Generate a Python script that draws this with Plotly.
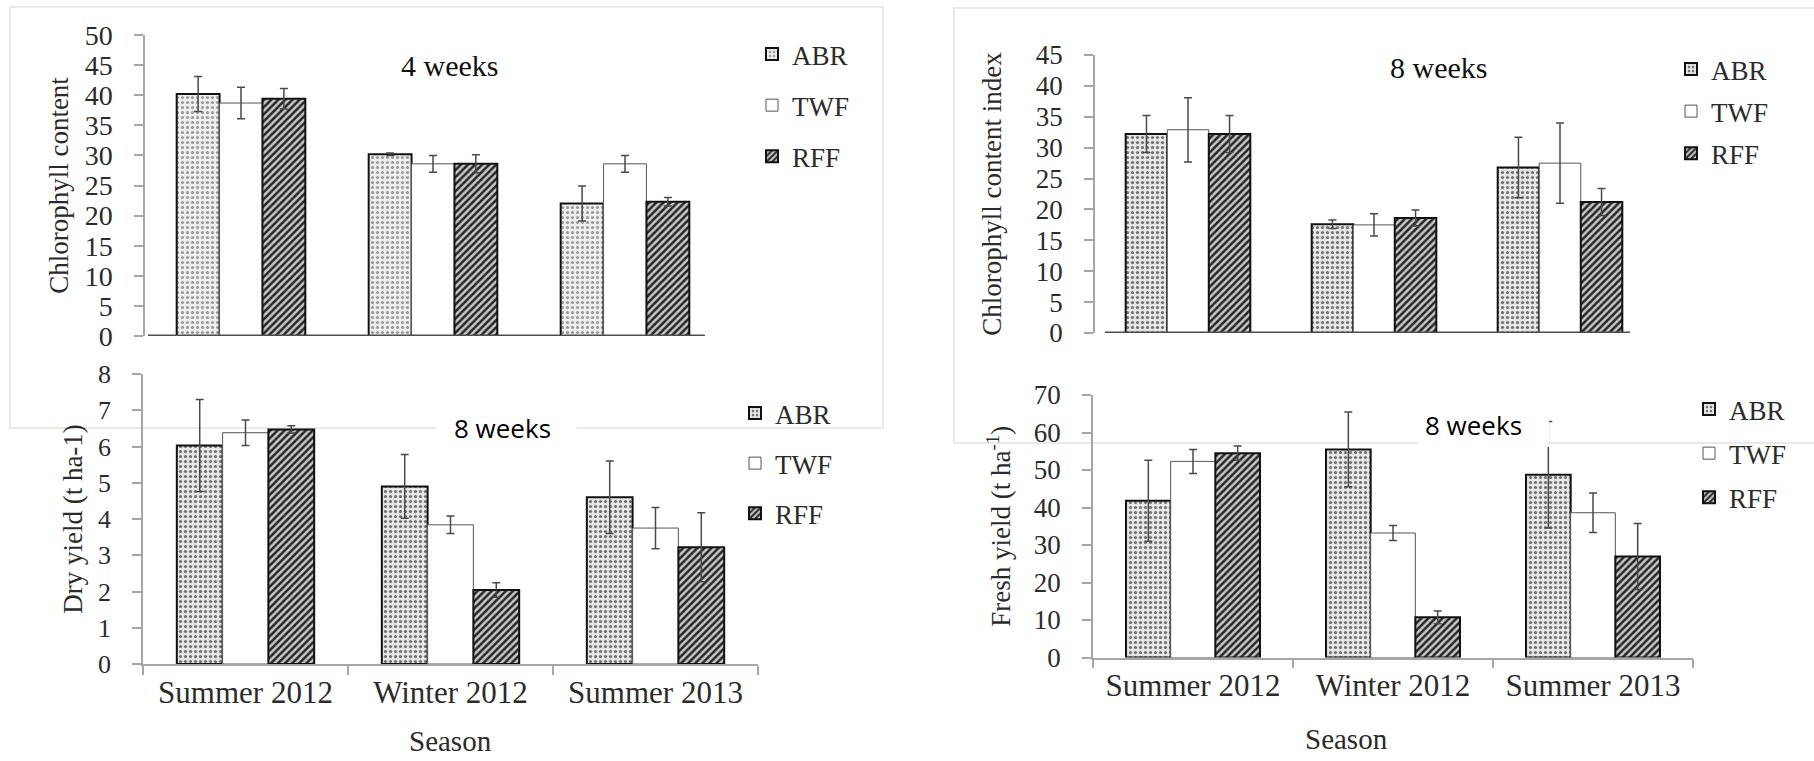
import plotly.graph_objects as go

W, H = 1814, 761

seasons = ["Summer 2012", "Winter 2012", "Summer 2013"]
treatments = ["ABR", "TWF", "RFF"]

# Chlorophyll content, 4 weeks
chl4 = {"ABR": [40.2, 30.2, 22.0], "TWF": [38.7, 28.6, 28.6], "RFF": [39.4, 28.6, 22.3]}
chl4_err = {"ABR": [2.9, 0.2, 2.9], "TWF": [2.6, 1.4, 1.4], "RFF": [1.7, 1.5, 0.7]}

# Chlorophyll content index, 8 weeks
chl8 = {"ABR": [32.2, 17.6, 26.8], "TWF": [32.9, 17.5, 27.5], "RFF": [32.2, 18.6, 21.2]}
chl8_err = {"ABR": [3.0, 0.7, 4.9], "TWF": [5.2, 1.8, 6.5], "RFF": [3.0, 1.3, 2.2]}

# Dry yield (t ha-1), 8 weeks
dry = {"ABR": [6.03, 4.9, 4.6], "TWF": [6.38, 3.84, 3.75], "RFF": [6.47, 2.04, 3.22]}
dry_err = {"ABR": [1.27, 0.88, 1.0], "TWF": [0.35, 0.24, 0.57], "RFF": [0.1, 0.2, 0.95]}

# Fresh yield (t ha-1), 8 weeks
fresh = {"ABR": [41.8, 55.5, 48.7], "TWF": [52.3, 33.2, 38.6], "RFF": [54.5, 10.7, 26.9]}
fresh_err = {"ABR": [10.8, 10.0, 14.2], "TWF": [3.2, 2.0, 5.3], "RFF": [1.9, 1.7, 8.8]}

SERIF = "Liberation Serif, Times New Roman, serif"
SANS = "Open Sans, Noto Sans, sans-serif"
TXT = "#2b2b2b"
AX = "#a6a6a6"


def fx(px):
    return px / W


def fy(py):
    return 1 - py / H


def style(t, light=False):
    if t == "ABR":
        return dict(color="#e9e9e9",
                    pattern=dict(shape=".", fgcolor="#9a9a9a" if light else "#6f6f6f",
                                 bgcolor="#eeeeee" if light else "#e6e6e6",
                                 size=5, solidity=0.3, fillmode="replace"),
                    line=dict(color="#111111", width=2))
    if t == "TWF":
        return dict(color="white", line=dict(color="#555555", width=1))
    return dict(color="#555555",
                pattern=dict(shape="/", fgcolor="#262626", bgcolor="#c8c8c8",
                             size=5, solidity=0.5, fillmode="replace"),
                line=dict(color="#111111", width=2))


fig = go.Figure()

panels = [
    ("x", "y", "legend", chl4, chl4_err, True),
    ("x2", "y2", "legend2", chl8, chl8_err, False),
    ("x3", "y3", "legend3", dry, dry_err, False),
    ("x4", "y4", "legend4", fresh, fresh_err, False),
]
for i, (xa, ya, lg, vals, errs, light) in enumerate(panels):
    for t in treatments:
        fig.add_trace(go.Bar(
            x=seasons, y=vals[t], name=t, xaxis=xa, yaxis=ya,
            legend=lg, legendgroup=f"{lg}_{t}", showlegend=True,
            marker=style(t, light),
            error_y=dict(type="data", array=errs[t], visible=True,
                         color="#4a4a4a", thickness=1.5, width=4),
            hoverinfo="x+y+name",
        ))

ytick_common = dict(showline=True, linecolor=AX, linewidth=1.5, ticks="outside",
                    ticklen=9, tickcolor=AX, tickwidth=1.5, showgrid=False,
                    zeroline=False, ticklabelstandoff=16, automargin=False)
top_x = dict(type="category", showline=False,
             showticklabels=False, ticks="", showgrid=False, zeroline=False,
             automargin=False)
bot_x = dict(type="category", showline=True, linecolor=AX, linewidth=1.5,
             ticks="outside", tickson="boundaries", ticklen=9, tickcolor=AX,
             tickwidth=1.5, showgrid=False, zeroline=False, automargin=False,
             tickfont=dict(family=SERIF, size=31, color=TXT))

fig.update_layout(
    width=W, height=H, autosize=False,
    margin=dict(l=0, r=0, t=0, b=0, pad=0),
    paper_bgcolor="white", plot_bgcolor="rgba(0,0,0,0)",
    barmode="group", bargap=0.33, bargroupgap=0,
    font=dict(family=SERIF, color=TXT),
    xaxis=dict(domain=[fx(145), fx(721)], anchor="y", **top_x),
    yaxis=dict(domain=[fy(336), fy(35)], anchor="x", range=[0, 50], dtick=5,
               tickfont=dict(family=SERIF, size=28, color=TXT),
               title=dict(text="Chlorophyll content", standoff=8,
                          font=dict(family=SERIF, size=27, color=TXT)),
               **ytick_common),
    xaxis2=dict(domain=[fx(1095), fx(1653)], anchor="y2", **top_x),
    yaxis2=dict(domain=[fy(333), fy(55)], anchor="x2", range=[0, 45], dtick=5,
                tickfont=dict(family=SERIF, size=27, color=TXT),
                title=dict(text="Chlorophyll content index", standoff=26,
                           font=dict(family=SERIF, size=27, color=TXT)),
                **ytick_common),
    xaxis3=dict(domain=[fx(143), fx(758)], anchor="y3", **bot_x),
    yaxis3=dict(domain=[fy(664), fy(374)], anchor="x3", range=[0, 8], dtick=1,
                tickfont=dict(family=SERIF, size=26, color=TXT),
                title=dict(text="Dry yield (t ha-1)", standoff=8,
                           font=dict(family=SERIF, size=27, color=TXT)),
                **ytick_common),
    xaxis4=dict(domain=[fx(1093), fx(1693)], anchor="y4", **bot_x),
    yaxis4=dict(domain=[fy(657.5), fy(395)], anchor="x4", range=[0, 70], dtick=10,
                tickfont=dict(family=SERIF, size=27, color=TXT),
                title=dict(text="Fresh yield (t ha<sup>-1</sup>)", standoff=15,
                           font=dict(family=SERIF, size=27, color=TXT)),
                **ytick_common),
)

legend_common = dict(xanchor="left", yanchor="top", bgcolor="rgba(0,0,0,0)",
                     font=dict(family=SERIF, size=27, color=TXT), traceorder="grouped")
fig.update_layout(
    legend=dict(x=fx(752), y=fy(30), tracegroupgap=13, **legend_common),
    legend2=dict(x=fx(1671), y=fy(45), tracegroupgap=4, **legend_common),
    legend3=dict(x=fx(735), y=fy(389), tracegroupgap=12, **legend_common),
    legend4=dict(x=fx(1689), y=fy(385), tracegroupgap=6, **legend_common),
)

shapes = [
    # faint frames of the two upper panels
    dict(type="rect", xref="paper", yref="paper", x0=fx(10), x1=fx(883), y0=fy(428), y1=fy(7),
         line=dict(color="#e4e4e4", width=1.5), layer="below"),
    dict(type="rect", xref="paper", yref="paper", x0=fx(954), x1=fx(1816), y0=fy(443), y1=fy(8),
         line=dict(color="#e4e4e4", width=1.5), layer="below"),
    # dark baselines of the two upper charts
    dict(type="line", xref="x domain", yref="y", x0=0.005, x1=0.972, y0=0, y1=0,
         line=dict(color="#4d4d4d", width=3), layer="above"),
    dict(type="line", xref="x2 domain", yref="y2", x0=0.018, x1=0.959, y0=0, y1=0,
         line=dict(color="#4d4d4d", width=3), layer="above"),
    # white text boxes of the lower "8 weeks" labels
    dict(type="rect", xref="paper", yref="paper", x0=fx(436), x1=fx(577), y0=fy(447), y1=fy(408),
         line=dict(width=0), fillcolor="white", layer="above"),
    dict(type="rect", xref="paper", yref="paper", x0=fx(1418), x1=fx(1549), y0=fy(447), y1=fy(400),
         line=dict(width=0), fillcolor="white", layer="above"),
]
fig.update_layout(shapes=shapes)

annotations = [
    dict(text="4 weeks", x=fx(449), y=fy(66), font=dict(family=SERIF, size=30, color="#111")),
    dict(text="8 weeks", x=fx(1438), y=fy(67), font=dict(family=SERIF, size=30, color="#111")),
    dict(text="8 weeks", x=fx(502), y=fy(428), font=dict(family=SANS, size=26, color="#000")),
    dict(text="8 weeks", x=fx(1473), y=fy(425), font=dict(family=SANS, size=26, color="#000")),
    dict(text="Season", x=fx(450), y=fy(741), font=dict(family=SERIF, size=29, color=TXT)),
    dict(text="Season", x=fx(1346), y=fy(739), font=dict(family=SERIF, size=29, color=TXT)),
]
for a in annotations:
    a.update(xref="paper", yref="paper", xanchor="center", yanchor="middle", showarrow=False)
fig.update_layout(annotations=annotations)

fig.write_html("out.html", config={"displayModeBar": False},
               post_script="document.body.style.margin='0';")
